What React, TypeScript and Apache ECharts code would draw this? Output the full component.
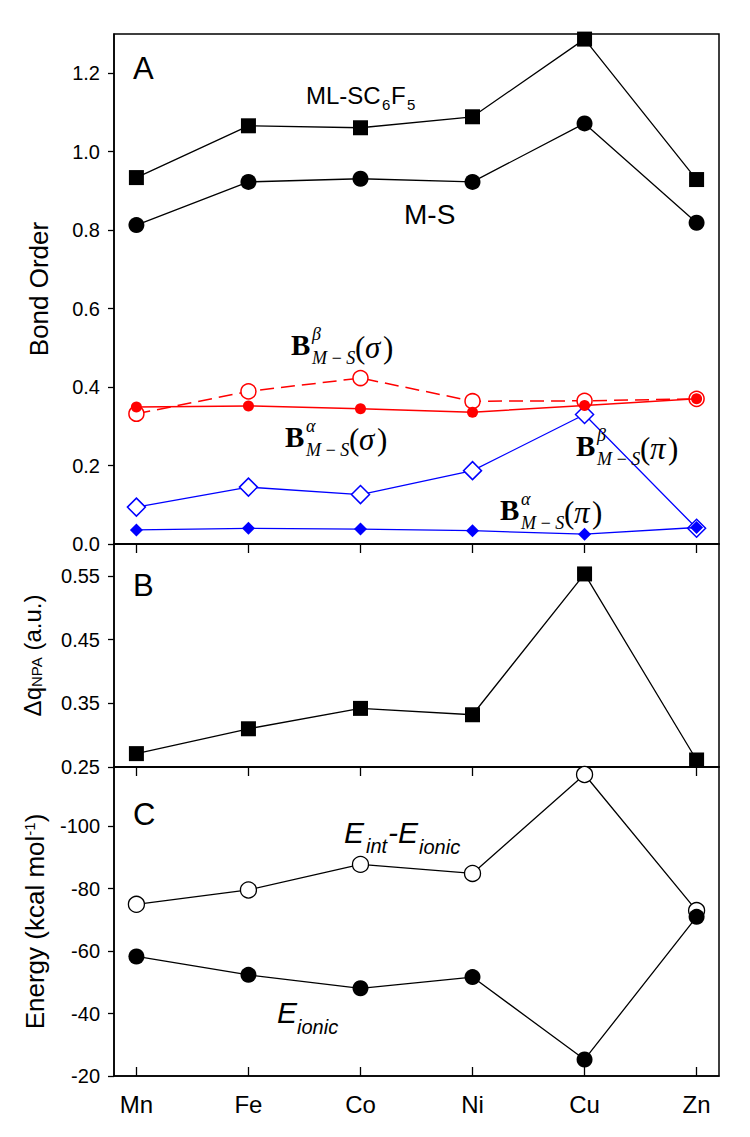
import React, { useEffect, useRef } from "react";
import * as echarts from "echarts";

const metals = ["Mn", "Fe", "Co", "Ni", "Cu", "Zn"];
const xPos = [0, 1, 2, 3, 4, 5];

// Panel A: bond orders
const mlSC6F5 = [0.934, 1.066, 1.061, 1.089, 1.287, 0.929];
const mS = [0.813, 0.923, 0.931, 0.923, 1.072, 0.819];
const betaSigma = [0.332, 0.389, 0.423, 0.364, 0.365, 0.37];
const alphaSigma = [0.349, 0.352, 0.345, 0.336, 0.353, 0.37];
const betaPi = [0.094, 0.145, 0.126, 0.187, 0.33, 0.04];
const alphaPi = [0.036, 0.04, 0.038, 0.034, 0.025, 0.042];

// Panel B: charge transfer
const dqNPA = [0.271, 0.31, 0.342, 0.332, 0.553, 0.261];

// Panel C: energies
const eIntMinusIonic = [-75, -79.6, -87.8, -84.9, -116.6, -73];
const eIonic = [-58.3, -52.4, -48.1, -51.7, -25.3, -71];

const ticksA = [0, 0.2, 0.4, 0.6, 0.8, 1.0, 1.2];
const ticksB = [0.25, 0.35, 0.45, 0.55];
const ticksC = [-100, -80, -60, -40, -20];

const SANS = "'Liberation Sans', Arial, Helvetica, sans-serif";
const SERIF = "'Liberation Serif', 'Times New Roman', 'DejaVu Serif', serif";

const pairs = (ys: number[]) => ys.map((y, i) => [xPos[i], y]);

export default function App() {
  const ref = useRef<HTMLDivElement>(null);
  useEffect(() => {
    const chart = echarts.init(ref.current!, null, { renderer: "svg" });
    const gridBase = { left: 114, right: 31, show: true, borderColor: "#000", borderWidth: 1.5, backgroundColor: "transparent" };
    const axLine = { show: true, onZero: false, lineStyle: { color: "#000", width: 1.5 } };
    const xAxisBase = (gi: number, showLabels: boolean, tickInside: boolean) => ({
      type: "value",
      gridIndex: gi,
      min: -0.2,
      max: 5.2,
      axisLine: axLine,
      axisTick: { show: true, inside: tickInside, length: 9, customValues: xPos, lineStyle: { color: "#000", width: 1.3 } },
      axisLabel: {
        show: showLabels,
        customValues: xPos,
        formatter: (v: number) => metals[Math.round(v)] ?? "",
        fontFamily: SANS,
        fontSize: 24,
        color: "#000",
        margin: 16,
      },
      splitLine: { show: false },
    });
    const yLabel = (fmt: (v: number) => string, custom: number[]) => ({
      customValues: custom,
      formatter: fmt,
      fontFamily: SANS,
      fontSize: 20,
      color: "#000",
      margin: 14,
    });
    const yTick = (custom: number[]) => ({ show: true, inside: false, length: 6, customValues: custom, lineStyle: { color: "#000", width: 1.3 } });

    const blackLine = { color: "#000", width: 1.3 };

    const t = (text: string, x: number, y: number, font: string, size: number, opts: any = {}) => ({
      type: "text",
      x,
      y,
      z: 100,
      style: {
        text,
        fill: opts.fill ?? "#000",
        font: `${opts.style ?? "normal"} ${opts.weight ?? "normal"} ${size}px ${font}`,
        align: opts.align ?? "left",
        verticalAlign: "middle",
      },
    });

    const mathLabel = (x: number, y: number, sup: string, paren: string) => [
      t("B", x, y, SERIF, 29, { weight: "bold" }),
      t(sup, x + 21, y - 11, SERIF, 18, { style: "italic" }),
      t("M\u2009\u2212\u2009S", x + 21, y + 13, SERIF, 18, { style: "italic" }),
      t("(", x + 64, y + 2, SERIF, 31),
      t(paren, x + 74, y + 2, SERIF, 31, { style: "italic" }),
      t(")", x + 92, y + 2, SERIF, 31),
    ];

    chart.setOption({
      animation: false,
      backgroundColor: "#fff",
      grid: [
        { ...gridBase, top: 34, height: 510 },
        { ...gridBase, top: 544, height: 223 },
        { ...gridBase, top: 767, height: 309 },
      ],
      xAxis: [xAxisBase(0, false, false), xAxisBase(1, false, false), xAxisBase(2, true, true)],
      yAxis: [
        {
          type: "value",
          gridIndex: 0,
          min: 0,
          max: 1.3,
          axisLine: axLine,
          axisTick: yTick(ticksA),
          axisLabel: yLabel((v) => v.toFixed(1), ticksA),
          splitLine: { show: false },
          name: "Bond Order",
          nameLocation: "middle",
          nameGap: 62,
          nameTextStyle: { fontFamily: SANS, fontSize: 26, color: "#000" },
        },
        {
          type: "value",
          gridIndex: 1,
          min: 0.25,
          max: 0.6,
          axisLine: axLine,
          axisTick: yTick(ticksB),
          axisLabel: yLabel((v) => v.toFixed(2), ticksB),
          splitLine: { show: false },
          name: "{a|\u0394q}{s|NPA}{a| (a.u.)}",
          nameLocation: "middle",
          nameGap: 70,
          nameTextStyle: {
            color: "#000",
            rich: {
              a: { fontFamily: SANS, fontSize: 24, color: "#000", lineHeight: 28, verticalAlign: "bottom" },
              s: { fontFamily: SANS, fontSize: 15, color: "#000", lineHeight: 14, verticalAlign: "bottom" },
            },
          },
        },
        {
          type: "value",
          gridIndex: 2,
          min: -119,
          max: -20,
          inverse: true,
          axisLine: axLine,
          axisTick: yTick(ticksC),
          axisLabel: yLabel((v) => String(Math.round(v)), ticksC),
          splitLine: { show: false },
          name: "{a|Energy (kcal mol}{p|-1}{a|)}",
          nameLocation: "middle",
          nameGap: 62,
          nameTextStyle: {
            color: "#000",
            rich: {
              a: { fontFamily: SANS, fontSize: 26, color: "#000", lineHeight: 30, verticalAlign: "top" },
              p: { fontFamily: SANS, fontSize: 15, color: "#000", lineHeight: 14, verticalAlign: "top" },
            },
          },
        },
      ],
      series: [
        {
          type: "line", xAxisIndex: 0, yAxisIndex: 0, data: pairs(mlSC6F5),
          symbol: "rect", symbolSize: 15, lineStyle: blackLine, itemStyle: { color: "#000" }, z: 3,
        },
        {
          type: "line", xAxisIndex: 0, yAxisIndex: 0, data: pairs(mS),
          symbol: "circle", symbolSize: 16, lineStyle: blackLine, itemStyle: { color: "#000" }, z: 3,
        },
        {
          type: "line", xAxisIndex: 0, yAxisIndex: 0, data: pairs(betaSigma),
          symbol: "circle", symbolSize: 15,
          lineStyle: { color: "#ff0000", width: 1.5, type: [14, 7] },
          itemStyle: { color: "#fff", borderColor: "#ff0000", borderWidth: 1.5 }, z: 3,
        },
        {
          type: "line", xAxisIndex: 0, yAxisIndex: 0, data: pairs(alphaSigma),
          symbol: "circle", symbolSize: 11,
          lineStyle: { color: "#ff0000", width: 1.5 },
          itemStyle: { color: "#ff0000" }, z: 4,
        },
        {
          type: "line", xAxisIndex: 0, yAxisIndex: 0, data: pairs(betaPi),
          symbol: "diamond", symbolSize: 18,
          lineStyle: { color: "#0000ff", width: 1.3 },
          itemStyle: { color: "#fff", borderColor: "#0000ff", borderWidth: 1.5 }, z: 3,
        },
        {
          type: "line", xAxisIndex: 0, yAxisIndex: 0, data: pairs(alphaPi),
          symbol: "diamond", symbolSize: 13,
          lineStyle: { color: "#0000ff", width: 1.3 },
          itemStyle: { color: "#0000ff" }, z: 4,
        },
        {
          type: "line", xAxisIndex: 1, yAxisIndex: 1, data: pairs(dqNPA),
          symbol: "rect", symbolSize: 15, lineStyle: blackLine, itemStyle: { color: "#000" }, z: 3,
        },
        {
          type: "line", xAxisIndex: 2, yAxisIndex: 2, data: pairs(eIntMinusIonic),
          symbol: "circle", symbolSize: 16, lineStyle: blackLine,
          itemStyle: { color: "#fff", borderColor: "#000", borderWidth: 1.3 }, z: 3,
        },
        {
          type: "line", xAxisIndex: 2, yAxisIndex: 2, data: pairs(eIonic),
          symbol: "circle", symbolSize: 16, lineStyle: blackLine, itemStyle: { color: "#000" }, z: 4,
        },
      ],
      graphic: [
        t("A", 133, 68, SANS, 31),
        t("B", 133, 585, SANS, 31),
        t("C", 133, 814, SANS, 31),
        t("ML-SC", 306, 95, SANS, 24),
        t("6", 382, 104, SANS, 15),
        t("F", 391, 95, SANS, 24),
        t("5", 407, 104, SANS, 15),
        t("M-S", 404, 214, SANS, 28),
        ...mathLabel(291, 345, "\u03b2", "\u03c3"),
        ...mathLabel(285, 437, "\u03b1", "\u03c3"),
        ...mathLabel(576, 446, "\u03b2", "\u03c0"),
        ...mathLabel(500, 510, "\u03b1", "\u03c0"),
        t("E", 344, 832, SANS, 30, { style: "italic" }),
        t("int", 366, 846, SANS, 20, { style: "italic" }),
        t("-E", 388, 832, SANS, 30, { style: "italic" }),
        t("ionic", 419, 847, SANS, 20, { style: "italic" }),
        t("E", 277, 1012, SANS, 30, { style: "italic" }),
        t("ionic", 297, 1027, SANS, 20, { style: "italic" }),
      ],
    });
    return () => chart.dispose();
  }, []);
  return <div ref={ref} style={{ position: "fixed", left: 0, top: 0, width: 750, height: 1137 }} />;
}
